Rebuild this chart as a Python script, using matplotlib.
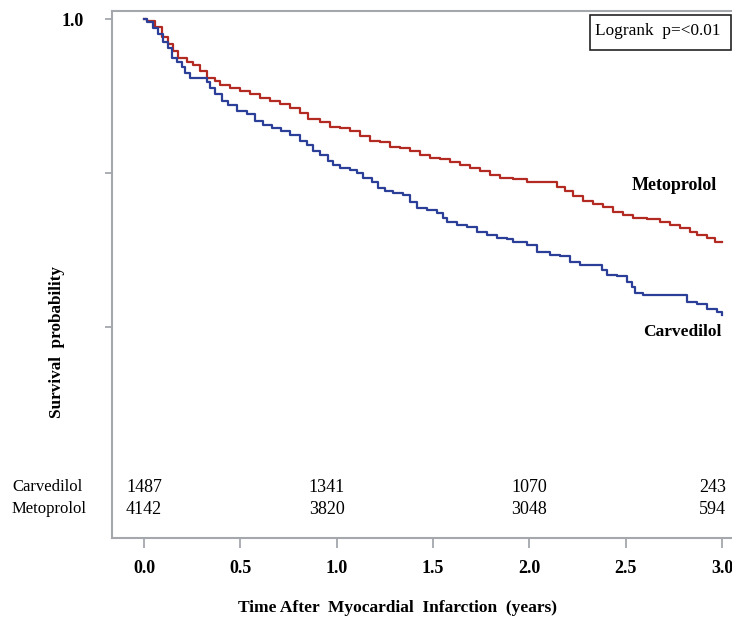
import matplotlib
matplotlib.use("Agg")
import matplotlib.pyplot as plt
from matplotlib.patches import Rectangle

# Kaplan-Meier estimates (time in years, survival)
metoprolol_t = [0.0, 0.016, 0.057, 0.093, 0.125, 0.150, 0.176, 0.223, 0.254, 0.291,
                0.327, 0.368, 0.394, 0.446, 0.498, 0.550, 0.602, 0.654, 0.706, 0.758,
                0.810, 0.851, 0.913, 0.965, 1.017, 1.069, 1.121, 1.173, 1.225, 1.277,
                1.328, 1.380, 1.432, 1.484, 1.536, 1.588, 1.640, 1.692, 1.744, 1.796,
                1.847, 1.915, 1.988, 2.143, 2.185, 2.226, 2.278, 2.330, 2.382, 2.434,
                2.486, 2.538, 2.610, 2.678, 2.730, 2.781, 2.833, 2.870, 2.922, 2.963,
                3.0]
metoprolol_s = [1.0, 0.999, 0.995, 0.988, 0.984, 0.979, 0.975, 0.972, 0.970, 0.966,
                0.962, 0.960, 0.957, 0.955, 0.953, 0.951, 0.949, 0.947, 0.945, 0.942,
                0.939, 0.935, 0.933, 0.930, 0.929, 0.927, 0.924, 0.921, 0.920, 0.917,
                0.916, 0.914, 0.912, 0.910, 0.909, 0.907, 0.905, 0.903, 0.901, 0.899,
                0.897, 0.896, 0.894, 0.891, 0.888, 0.885, 0.882, 0.880, 0.878, 0.875,
                0.873, 0.871, 0.870, 0.868, 0.866, 0.864, 0.862, 0.860, 0.858, 0.855,
                0.855]

carvedilol_t = [0.0, 0.016, 0.047, 0.073, 0.099, 0.125, 0.145, 0.171, 0.197, 0.213,
                0.239, 0.327, 0.342, 0.368, 0.405, 0.436, 0.483, 0.535, 0.576, 0.618,
                0.664, 0.710, 0.758, 0.810, 0.846, 0.877, 0.913, 0.955, 0.981, 1.017,
                1.069, 1.105, 1.136, 1.183, 1.214, 1.251, 1.292, 1.344, 1.380, 1.417,
                1.469, 1.520, 1.552, 1.572, 1.624, 1.676, 1.728, 1.780, 1.832, 1.884,
                1.915, 1.988, 2.039, 2.107, 2.159, 2.211, 2.263, 2.377, 2.403, 2.455,
                2.506, 2.532, 2.548, 2.590, 2.818, 2.870, 2.922, 2.974, 3.0]
carvedilol_s = [1.0, 0.998, 0.994, 0.990, 0.985, 0.981, 0.975, 0.972, 0.969, 0.965,
                0.962, 0.959, 0.955, 0.951, 0.947, 0.944, 0.940, 0.938, 0.934, 0.931,
                0.929, 0.927, 0.925, 0.921, 0.918, 0.914, 0.912, 0.908, 0.905, 0.903,
                0.902, 0.900, 0.897, 0.894, 0.890, 0.888, 0.887, 0.886, 0.881, 0.877,
                0.876, 0.874, 0.871, 0.868, 0.866, 0.865, 0.862, 0.860, 0.858, 0.857,
                0.855, 0.853, 0.849, 0.847, 0.846, 0.842, 0.840, 0.837, 0.834, 0.833,
                0.829, 0.826, 0.822, 0.821, 0.816, 0.815, 0.812, 0.810, 0.808]

# numbers at risk
risk_times = [0.0, 0.95, 2.0, 2.95]
carvedilol_risk = [1487, 1341, 1070, 243]
metoprolol_risk = [4142, 3820, 3048, 594]

x_ticks = [0.0, 0.5, 1.0, 1.5, 2.0, 2.5, 3.0]
y_ticks = [0.8, 0.9, 1.0]
y_ticklabels = ["", "", "1.0"]

W, H = 732, 620
serif = ["Liberation Serif", "DejaVu Serif"]
plt.rcParams["font.family"] = serif

fig = plt.figure(figsize=(W / 100, H / 100), dpi=100)
ax = fig.add_axes([112 / W, (H - 538) / H, (W - 112) / W, (538 - 11) / H])

red = "#b32a22"
blue = "#2c3f98"
ax.plot(metoprolol_t, metoprolol_s, drawstyle="steps-post", color=red, lw=1.6)
ax.plot(carvedilol_t, carvedilol_s, drawstyle="steps-post", color=blue, lw=1.6)

ax.set_xlim(-0.166, 3.052)
ax.set_ylim(0.663, 1.0052)

gray = "#a4a8ad"
for side in ["left", "top", "bottom"]:
    ax.spines[side].set_color(gray)
    ax.spines[side].set_linewidth(1.5)
ax.spines["right"].set_visible(False)

ax.set_xticks(x_ticks)
ax.set_xticklabels([f"{v:.1f}" for v in x_ticks], fontsize=13, fontweight="bold")
ax.set_yticks(y_ticks)
ax.set_yticklabels(y_ticklabels, fontsize=13, fontweight="bold")
ax.tick_params(axis="x", direction="out", length=7, width=1.3, color=gray, pad=9)
ax.tick_params(axis="y", direction="out", length=5, width=1.3, color=gray, pad=15)
for lab in ax.get_yticklabels():
    lab.set_y(1.0025)

# curve labels
ax.text(2.532, 1 - (185 - 19) / 1540, "Metoprolol", fontsize=13, fontweight="bold",
        ha="left", va="center")
ax.text(2.589, 1 - (332 - 19) / 1540, "Carvedilol", fontsize=12.5, fontweight="bold",
        ha="left", va="center")

# risk table
row1 = 1 - (487 - 19) / 1540
row2 = 1 - (509 - 19) / 1540
for t, c, m in zip(risk_times, carvedilol_risk, metoprolol_risk):
    ax.text(t, row1, str(c), fontsize=13, ha="center", va="center")
    ax.text(t, row2, str(m), fontsize=13, ha="center", va="center")
fig.text(12 / W, (H - 487) / H, "Carvedilol", fontsize=12, ha="left", va="center")
fig.text(12 / W, (H - 509) / H, "Metoprolol", fontsize=12, ha="left", va="center")

# logrank box
fig.patches.append(Rectangle((590 / W, (H - 50) / H), (W - 591) / W, 35 / H,
                             transform=fig.transFigure, fill=False, ec="#222222", lw=1.2))
fig.text(595 / W, (H - 31) / H, "Logrank  p=<0.01", fontsize=12.4, ha="left", va="center")

fig.text(397 / W, (H - 608) / H, "Time After  Myocardial  Infarction  (years)",
         fontsize=12.5, fontweight="bold", ha="center", va="center")
fig.text(57 / W, (H - 342) / H, "Survival  probability", fontsize=12.3, fontweight="bold",
         rotation=90, ha="center", va="center")

fig.savefig("out.png", dpi=100)
